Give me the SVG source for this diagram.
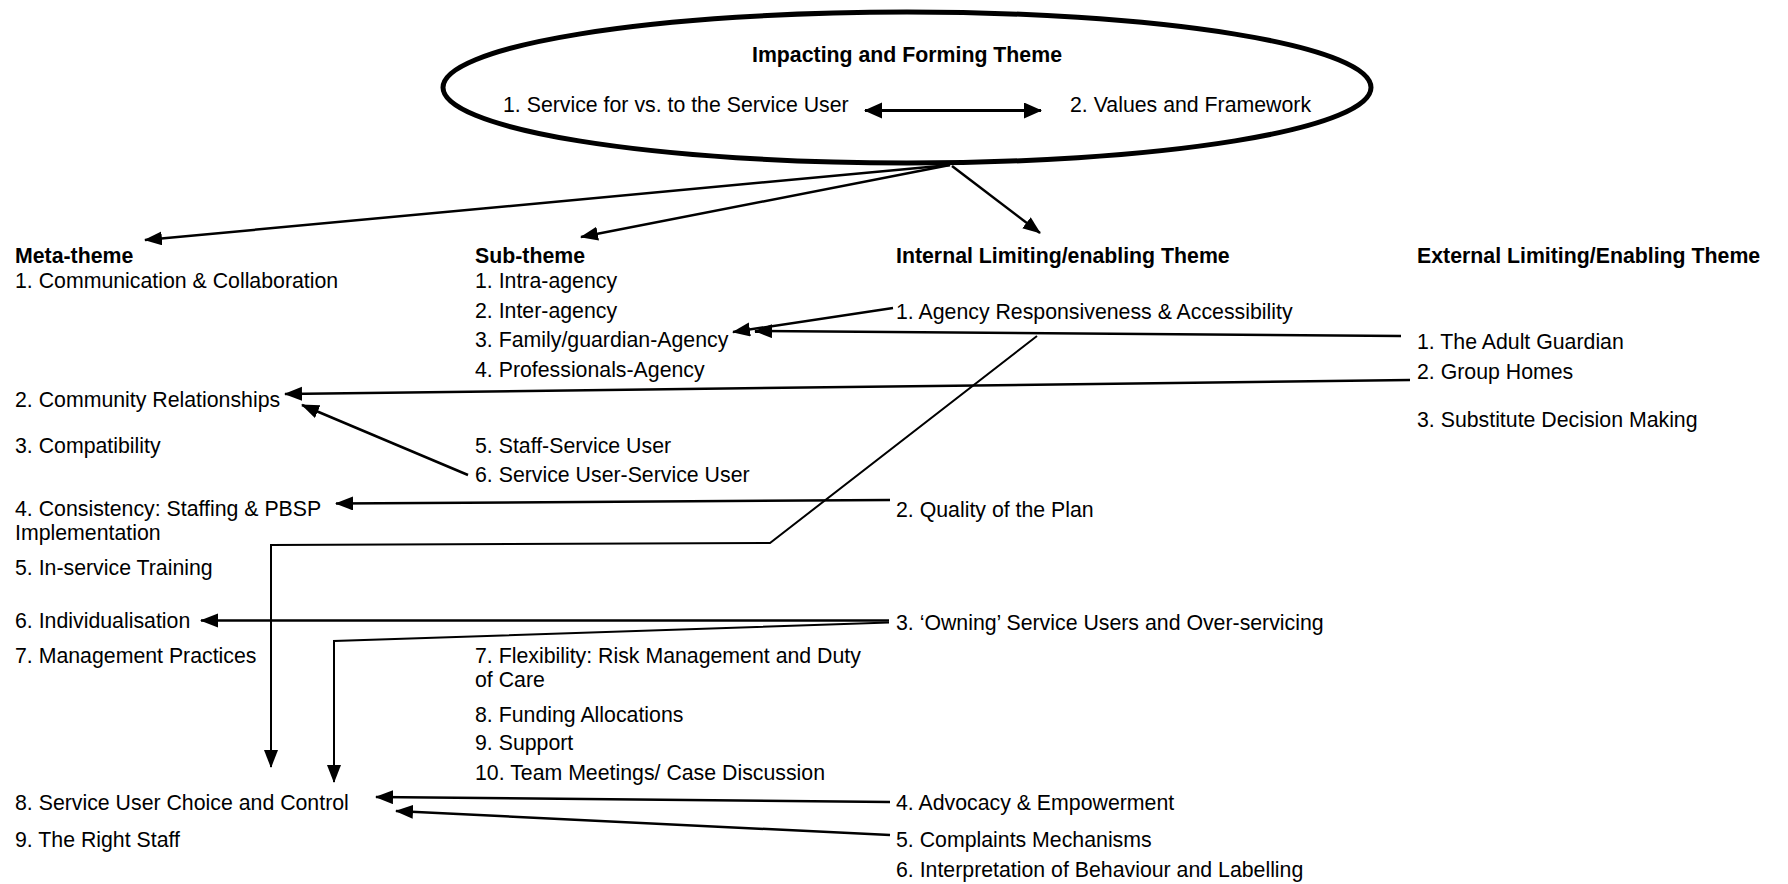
<svg xmlns="http://www.w3.org/2000/svg" width="1788" height="884" viewBox="0 0 1788 884">
  <style>
    text { font-family: "Liberation Sans", Arial, sans-serif; font-size: 21.3px; fill: #000; }
    .hd { font-weight: bold; }
    .ln { fill: none; stroke: #000; stroke-width: 2.5; }
    .pl { fill: none; stroke: #000; stroke-width: 2; }
    .dbl { fill: none; stroke: #000; stroke-width: 3; }
  </style>
  <defs>
    <marker id="arrow" markerUnits="userSpaceOnUse" markerWidth="20" markerHeight="16" refX="17" refY="7" orient="auto-start-reverse">
      <path d="M0,0 L18,7 L0,14 z" fill="#000"/>
    </marker>
    <marker id="arrow-lg" markerUnits="userSpaceOnUse" markerWidth="20" markerHeight="18" refX="17" refY="8" orient="auto-start-reverse">
      <path d="M0,0 L18,8 L0,16 z" fill="#000"/>
    </marker>
  </defs>
  <rect width="1788" height="884" fill="#fff"/>

  <!-- central theme -->
  <g id="impacting-forming">
    <ellipse cx="907" cy="87.5" rx="464" ry="75.5" fill="#fff" stroke="#000" stroke-width="5"/>
    <text class="hd" x="907" y="61.5" text-anchor="middle">Impacting and Forming Theme</text>
    <text x="503" y="111.5">1. Service for vs. to the Service User</text>
    <text x="1070" y="111.5">2. Values and Framework</text>
    <path class="dbl" d="M865,110.5 L1041,110.5" marker-start="url(#arrow-lg)" marker-end="url(#arrow-lg)"/>
  </g>

  <!-- column headers -->
  <g id="meta-theme"><text class="hd" x="15" y="263">Meta-theme</text></g>
  <g id="sub-theme"><text class="hd" x="475" y="263">Sub-theme</text></g>
  <g id="internal-theme"><text class="hd" x="896" y="263">Internal Limiting/enabling Theme</text></g>
  <g id="external-theme"><text class="hd" x="1417" y="263">External Limiting/Enabling Theme</text></g>

  <!-- meta-theme items -->
  <g id="meta-1"><text x="15" y="288">1. Communication &amp; Collaboration</text></g>
  <g id="meta-2"><text x="15" y="406.5">2. Community Relationships</text></g>
  <g id="meta-3"><text x="15" y="453">3. Compatibility</text></g>
  <g id="meta-4"><text x="15" y="515.5">4. Consistency: Staffing &amp; PBSP</text><text x="15" y="540">Implementation</text></g>
  <g id="meta-5"><text x="15" y="575">5. In-service Training</text></g>
  <g id="meta-6"><text x="15" y="628">6. Individualisation</text></g>
  <g id="meta-7"><text x="15" y="663">7. Management Practices</text></g>
  <g id="meta-8"><text x="15" y="809.5">8. Service User Choice and Control</text></g>
  <g id="meta-9"><text x="15" y="846.5">9. The Right Staff</text></g>

  <!-- sub-theme items -->
  <g id="sub-1"><text x="475" y="288">1. Intra-agency</text></g>
  <g id="sub-2"><text x="475" y="318">2. Inter-agency</text></g>
  <g id="sub-3"><text x="475" y="346.5">3. Family/guardian-Agency</text></g>
  <g id="sub-4"><text x="475" y="376.5">4. Professionals-Agency</text></g>
  <g id="sub-5"><text x="475" y="453">5. Staff-Service User</text></g>
  <g id="sub-6"><text x="475" y="481.5">6. Service User-Service User</text></g>
  <g id="sub-7"><text x="475" y="663">7. Flexibility: Risk Management and Duty</text><text x="475" y="686.5">of Care</text></g>
  <g id="sub-8"><text x="475" y="721.5">8. Funding Allocations</text></g>
  <g id="sub-9"><text x="475" y="750">9. Support</text></g>
  <g id="sub-10"><text x="475" y="780">10. Team Meetings/ Case Discussion</text></g>

  <!-- internal limiting/enabling items -->
  <g id="int-1"><text x="896" y="318.5">1. Agency Responsiveness &amp; Accessibility</text></g>
  <g id="int-2"><text x="896" y="516.5">2. Quality of the Plan</text></g>
  <g id="int-3"><text x="896" y="629.5">3. ‘Owning’ Service Users and Over-servicing</text></g>
  <g id="int-4"><text x="896" y="810">4. Advocacy &amp; Empowerment</text></g>
  <g id="int-5"><text x="896" y="846.5">5. Complaints Mechanisms</text></g>
  <g id="int-6"><text x="896" y="876.5">6. Interpretation of Behaviour and Labelling</text></g>

  <!-- external limiting/enabling items -->
  <g id="ext-1"><text x="1417" y="348.5">1. The Adult Guardian</text></g>
  <g id="ext-2"><text x="1417" y="378.5">2. Group Homes</text></g>
  <g id="ext-3"><text x="1417" y="426.5">3. Substitute Decision Making</text></g>

  <!-- connectors -->
  <g id="connectors">
    <path class="ln" d="M950,165 L145,240" marker-end="url(#arrow)"/>
    <path class="ln" d="M950,165 L581,237" marker-end="url(#arrow)"/>
    <path class="ln" d="M952,166 L1040,233" marker-end="url(#arrow)"/>
    <path class="ln" d="M893,308 L733,332" marker-end="url(#arrow)"/>
    <path class="ln" d="M1401,336 L755,331" marker-end="url(#arrow)"/>
    <path class="ln" d="M1410,380 L285,394" marker-end="url(#arrow)"/>
    <path class="ln" d="M468,475 L302,405" marker-end="url(#arrow)"/>
    <path class="ln" d="M890,500 L336,503.5" marker-end="url(#arrow)"/>
    <path class="pl" d="M1037,336 L770,543 L271,545 L271,767" marker-end="url(#arrow)"/>
    <path class="ln" d="M889,620.5 L201,620.5" marker-end="url(#arrow)"/>
    <path class="pl" d="M889,622.5 L334,641 L334,782" marker-end="url(#arrow)"/>
    <path class="ln" d="M890,802 L376,797" marker-end="url(#arrow)"/>
    <path class="ln" d="M890,835 L396,811" marker-end="url(#arrow)"/>
  </g>
</svg>
